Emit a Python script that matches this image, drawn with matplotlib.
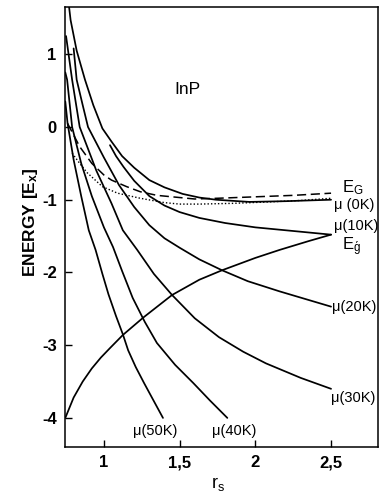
import matplotlib
matplotlib.use("Agg")
import matplotlib.pyplot as plt

plt.rcParams['font.family'] = ['Liberation Sans', 'DejaVu Sans']
plt.rcParams['mathtext.default'] = 'regular'

# ---- data (r_s, energy in E_x) ----
mu0_r = [0.77, 0.78, 0.82, 0.875, 0.93, 0.99, 1.05, 1.12, 1.20, 1.30, 1.40, 1.52, 1.63, 1.74, 1.96, 2.20, 2.50]
mu0_e = [1.65, 1.47, 1.05, 0.65, 0.30, -0.02, -0.20, -0.40, -0.56, -0.73, -0.83, -0.92, -0.97, -1.00, -1.03, -1.02, -1.00]

mu10_r = [1.04, 1.08, 1.13, 1.20, 1.30, 1.40, 1.50, 1.63, 1.80, 2.00, 2.20, 2.50]
mu10_e = [-0.25, -0.40, -0.55, -0.74, -0.95, -1.08, -1.17, -1.25, -1.32, -1.38, -1.42, -1.48]

mu20_r = [0.80, 0.82, 0.86, 0.895, 1.00, 1.10, 1.20, 1.30, 1.40, 1.50, 1.63, 1.78, 1.95, 2.16, 2.50]
mu20_e = [1.08, 0.65, 0.30, 0.00, -0.42, -0.80, -1.10, -1.35, -1.53, -1.66, -1.82, -1.97, -2.12, -2.26, -2.47]

mu30_r = [0.75, 0.79, 0.84, 0.95, 1.05, 1.125, 1.22, 1.33, 1.45, 1.60, 1.76, 1.92, 2.07, 2.30, 2.50]
mu30_e = [1.25, 0.65, 0.00, -0.60, -1.05, -1.42, -1.69, -2.02, -2.31, -2.63, -2.89, -3.09, -3.25, -3.45, -3.60]

mu40_r = [0.745, 0.757, 0.79, 0.85, 0.92, 1.00, 1.06, 1.12, 1.19, 1.27, 1.35, 1.47, 1.59, 1.70, 1.815]
mu40_e = [0.75, 0.65, 0.00, -0.50, -0.95, -1.38, -1.65, -1.98, -2.35, -2.68, -2.97, -3.27, -3.52, -3.76, -4.00]

mu50_r = [0.745, 0.76, 0.80, 0.85, 0.90, 0.945, 0.99, 1.03, 1.08, 1.125, 1.16, 1.21, 1.265, 1.33, 1.39]
mu50_e = [0.35, 0.05, -0.45, -0.95, -1.42, -1.69, -2.02, -2.30, -2.60, -2.85, -3.07, -3.30, -3.52, -3.77, -4.00]

egp_r = [0.745, 0.80, 0.86, 0.92, 0.98, 1.04, 1.125, 1.26, 1.45, 1.63, 1.78, 2.00, 2.16, 2.35, 2.50]
egp_e = [-4.00, -3.72, -3.50, -3.32, -3.17, -3.04, -2.86, -2.62, -2.31, -2.10, -1.97, -1.80, -1.69, -1.57, -1.48]

eg_r = [0.76, 0.84, 0.92, 1.00, 1.05, 1.15, 1.24, 1.35, 1.50, 1.60, 1.75, 2.00, 2.25, 2.50]
eg_e = [0.05, -0.27, -0.50, -0.66, -0.73, -0.82, -0.89, -0.94, -0.97, -0.99, -0.98, -0.96, -0.94, -0.91]

dot_r = [0.79, 0.84, 0.89, 0.99, 1.09, 1.24, 1.40, 1.50, 1.63, 1.85, 2.09, 2.30, 2.50]
dot_e = [-0.36, -0.50, -0.63, -0.82, -0.91, -0.98, -1.04, -1.06, -1.06, -1.05, -1.03, -1.01, -0.98]

xticks = [1.0, 1.5, 2.0, 2.5]
xticklabels = ['1', '1,5', '2', '2,5']
yticks = [1, 0, -1, -2, -3, -4]
yticklabels = ['1', '0', '-1', '-2', '-3', '-4']

fig = plt.figure(figsize=(3.79, 4.95), dpi=100)
ax = fig.add_axes([65/379, 1-447/495, 313/379, 440/495])

lw = 1.25
for r, e in [(mu0_r, mu0_e), (mu10_r, mu10_e), (mu20_r, mu20_e), (mu30_r, mu30_e),
             (mu40_r, mu40_e), (mu50_r, mu50_e), (egp_r, egp_e)]:
    ax.plot(r, e, color='black', lw=lw, solid_capstyle='round', solid_joinstyle='round')
ax.plot(eg_r, eg_e, color='black', lw=1.1, ls=(0, (6, 3)))
ax.plot(dot_r, dot_e, color='black', lw=1.0, ls=(0, (1, 1.5)))

ax.set_xlim(0.743, 2.81)
ax.set_ylim(-4.40, 1.65)
ax.set_xticks(xticks)
ax.set_xticklabels(xticklabels)
ax.set_yticks(yticks)
ax.set_yticklabels(yticklabels)
ax.tick_params(direction='in', length=5, width=1, labelsize=12, pad=6)
for lab in ax.get_xticklabels() + ax.get_yticklabels():
    lab.set_fontweight('bold')
for s in ax.spines.values():
    s.set_linewidth(1.1)

fs = 10.5
ax.text(2.572, -0.83, r'E$_G$', fontsize=12, ha='left', va='center')
ax.text(2.52, -1.07, 'μ (0K)', fontsize=fs, ha='left', va='center')
ax.text(2.52, -1.36, 'μ(10K)', fontsize=fs, ha='left', va='center')
ax.text(2.57, -1.64, r'E$_{\acute{g}}$', fontsize=12, ha='left', va='center')
ax.text(2.507, -2.48, 'μ(20K)', fontsize=fs, ha='left', va='center')
ax.text(2.50, -3.73, 'μ(30K)', fontsize=fs, ha='left', va='center')
ax.text(1.34, -4.18, 'μ(50K)', fontsize=fs, ha='center', va='center')
ax.text(1.86, -4.18, 'μ(40K)', fontsize=fs, ha='center', va='center')
ax.text(1.55, 0.51, 'InP', fontsize=12.5, ha='center', va='center')

fig.text(30/379, 1-222/495, r'ENERGY [E$_x$]', rotation=90, fontsize=12.5,
         fontweight='bold', ha='center', va='center')
fig.text(218/379, 1-484/495, r'r$_s$', fontsize=13, ha='center', va='center')

fig.savefig('out.png', dpi=100)
